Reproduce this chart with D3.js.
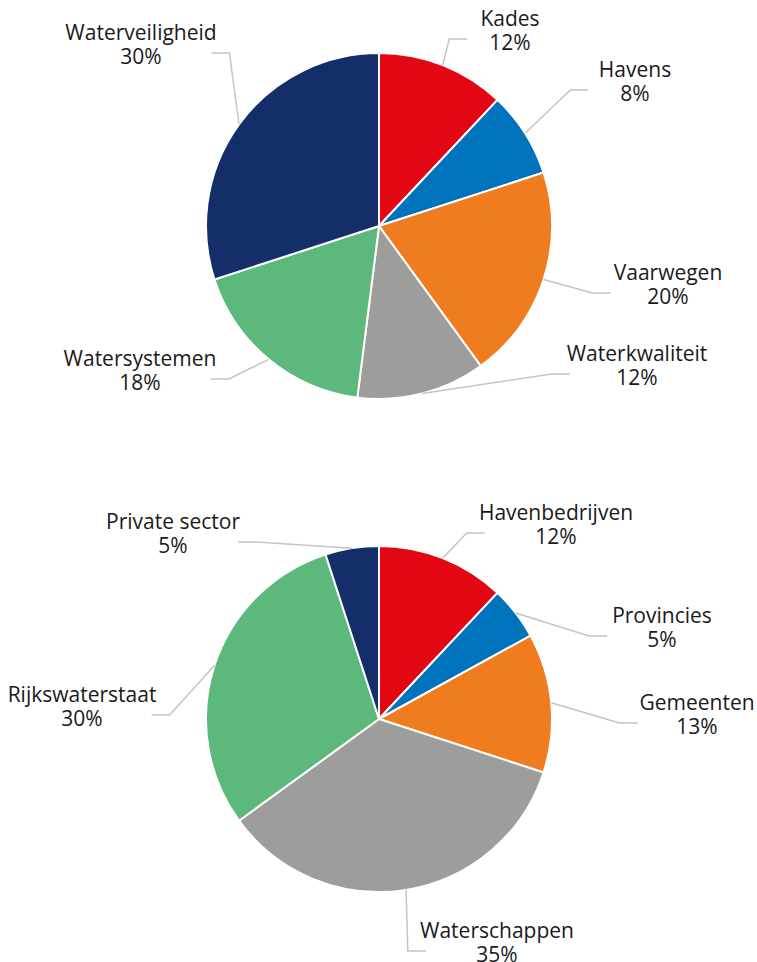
<!DOCTYPE html>
<html>
<head>
<meta charset="utf-8">
<script src="https://cdn.jsdelivr.net/npm/d3@7"></script>
<style>
  body { margin: 0; background: #fff; }
  text { font-family: "Open Sans", "Noto Sans", sans-serif; font-size: 21px; fill: #1a1a1a; }
</style>
</head>
<body>
<div class="canvas"></div>
<script>
// data
const topCategories = ['Kades', 'Havens', 'Vaarwegen', 'Waterkwaliteit', 'Watersystemen', 'Waterveiligheid'];
const topValues = [12, 8, 20, 12, 18, 30];

const bottomCategories = ['Havenbedrijven', 'Provincies', 'Gemeenten', 'Waterschappen', 'Rijkswaterstaat', 'Private sector'];
const bottomValues = [12, 5, 13, 35, 30, 5];

const colors = ['#e30613', '#0073bd', '#ef7d1f', '#9d9d9c', '#5db87b', '#132e68'];

// label placement (offset of label centre / first baseline from pie centre)
const topLabelOffsets = [[131, -200], [256, -149], [289, 54], [258, 135], [-239, 140], [-238, -186]];
const bottomLabelOffsets = [[177, -199], [283, -96], [318, -9], [118, 219], [-297, -17], [-206, -190]];

const width = 757, height = 962, radius = 173;

const svg = d3.select('.canvas')
  .append('svg')
  .attr('width', width)
  .attr('height', height);

const pie = d3.pie().sort(null).value((d) => d.value);
const arcPath = d3.arc().innerRadius(0).outerRadius(radius);

const color = d3.scaleOrdinal().range(colors);

const drawPie = (categories, values, offsets, center) => {
  const data = categories.map((name, i) => ({ name, value: values[i] }));
  const total = d3.sum(values);
  color.domain(d3.range(categories.length));

  const graph = svg.append('g')
    .attr('transform', `translate(${center.x},${center.y})`);

  const slices = pie(data);

  graph.selectAll('path.arc')
    .data(slices)
    .enter()
    .append('path')
    .attr('class', 'arc')
    .attr('d', arcPath)
    .attr('fill', (d, i) => color(i))
    .attr('stroke', '#fff')
    .attr('stroke-width', 2)
    .attr('stroke-linejoin', 'round');

  // labels
  const labels = graph.selectAll('g.label')
    .data(slices)
    .enter()
    .append('g')
    .attr('class', 'label');

  labels.each(function (d, i) {
    const g = d3.select(this);
    const [lx, ly] = offsets[i];
    const label = g.append('text')
      .attr('text-anchor', 'middle');
    const t1 = label.append('tspan')
      .attr('x', lx).attr('y', ly)
      .text(d.data.name);
    const t2 = label.append('tspan')
      .attr('x', lx).attr('y', ly + 24)
      .text(d3.format('.0%')(d.data.value / total));
    const half = Math.max(t1.node().getComputedTextLength(), t2.node().getComputedTextLength()) / 2;

    // leader line: arc edge -> elbow -> label side
    const mid = (d.startAngle + d.endAngle) / 2;
    const start = [Math.sin(mid) * radius, -Math.cos(mid) * radius];
    const side = lx > 0 ? -1 : 1;
    const endX = lx + side * (half * 0.6 + 25);
    const endY = ly + 13;
    const elbowX = endX + side * 18;

    g.insert('polyline', 'text')
      .attr('points', [start, [elbowX, endY], [endX, endY]].map((p) => p.join(',')).join(' '))
      .attr('fill', 'none')
      .attr('stroke', '#c4c4c4')
      .attr('stroke-width', 1.5);
  });
};

drawPie(topCategories, topValues, topLabelOffsets, { x: 379, y: 226 });
drawPie(bottomCategories, bottomValues, bottomLabelOffsets, { x: 379, y: 719 });
</script>
</body>
</html>
